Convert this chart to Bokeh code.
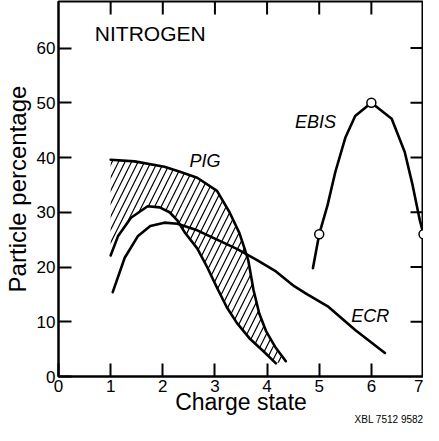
import math
from bokeh.plotting import figure
from bokeh.models import FixedTicker, Label, Range1d, Title
from bokeh.embed import file_html
from bokeh.resources import INLINE

# ---- data ----
charge_ticks = [0, 1, 2, 3, 4, 5, 6, 7]
pct_ticks = [0, 10, 20, 30, 40, 50, 60]
top_ticks = [1, 2, 3, 4, 5, 6]
right_ticks = [10, 20, 30, 40, 50, 60]
X_MIN, X_MAX = 0, 7
Y_MIN, Y_MAX = 0, 68.5

# PIG band: upper and lower envelopes
pig_upper_x = [1.0, 1.46, 2.03, 2.33, 2.66, 3.04, 3.28, 3.47, 3.57, 3.64, 3.74, 3.85, 3.98, 4.17, 4.36]
pig_upper_y = [39.6, 39.3, 38.3, 37.4, 36.3, 33.9, 30.0, 26.2, 23.3, 21.2, 15.8, 11.5, 8.3, 5.2, 2.8]
pig_lower_x = [1.0, 1.14, 1.39, 1.71, 1.94, 2.13, 2.28, 2.43, 2.66, 2.85, 3.04, 3.23, 3.42, 3.66, 3.93, 4.17]
pig_lower_y = [22.1, 25.6, 29.0, 31.1, 30.9, 30.0, 28.5, 26.2, 23.4, 20.0, 16.2, 12.6, 9.8, 7.0, 4.6, 2.4]

# ECR
ecr_x = [1.04, 1.27, 1.52, 1.76, 2.03, 2.28, 2.66, 3.04, 3.42, 3.80, 4.17, 4.52, 4.74, 5.18, 5.69, 6.26]
ecr_y = [15.4, 21.7, 25.6, 27.5, 28.1, 27.9, 26.7, 25.0, 23.3, 21.3, 19.2, 16.5, 15.2, 12.7, 8.5, 4.3]

# EBIS curve and measured points
ebis_x = [4.88, 5.0, 5.16, 5.31, 5.5, 5.69, 6.0, 6.39, 6.64, 6.79, 6.93, 7.0]
ebis_y = [19.8, 26.0, 31.3, 37.4, 43.6, 47.6, 50.0, 47.1, 41.0, 35.0, 28.5, 26.0]
ebis_pts_x = [5, 6, 7]
ebis_pts_y = [26, 50, 26]

FONT = "Liberation Sans"

p = figure(width=423, height=425, x_range=Range1d(X_MIN, X_MAX), y_range=Range1d(Y_MIN, Y_MAX),
           output_backend="svg", toolbar_location=None,
           min_border_left=52, min_border_right=0, min_border_top=1, min_border_bottom=49)
p.xgrid.visible = False
p.ygrid.visible = False
p.outline_line_color = "black"
p.outline_line_width = 2
p.background_fill_color = "white"
p.border_fill_color = "white"

def style_axis(ax, ticks):
    ax.ticker = FixedTicker(ticks=ticks)
    ax.axis_line_width = 2
    ax.axis_line_color = "black"
    ax.major_tick_in = 13
    ax.major_tick_out = 0
    ax.major_tick_line_width = 2
    ax.major_tick_line_color = "black"
    ax.minor_tick_line_color = None
    ax.major_label_text_font = FONT
    ax.major_label_text_color = "black"
    ax.axis_label_text_font = FONT
    ax.axis_label_text_color = "black"
    ax.axis_label_text_font_style = "normal"

xa = p.xaxis[0]
style_axis(xa, charge_ticks)
xa.major_label_text_font_size = "17px"
xa.major_label_standoff = 3
xa.axis_label = "Charge state"
xa.axis_label_text_font_size = "23px"
xa.axis_label_standoff = -6

ya = p.yaxis[0]
style_axis(ya, pct_ticks)
ya.major_label_text_font_size = "17px"
ya.major_label_standoff = 3
ya.axis_label = "Particle percentage"
ya.axis_label_text_font_size = "24px"
ya.axis_label_standoff = 3

# inward ticks on the top and right edges (half of each dash is clipped by the frame)
p.scatter(top_ticks, [Y_MAX] * len(top_ticks), marker="dash", angle=math.pi / 2,
          size=26, line_color="black", line_width=2)
p.scatter([X_MAX] * len(right_ticks), right_ticks, marker="dash",
          size=26, line_color="black", line_width=2)

# hatched PIG band
band_x = pig_upper_x + pig_lower_x[::-1]
band_y = pig_upper_y + pig_lower_y[::-1]
p.patch(band_x, band_y, fill_alpha=0, line_color=None,
        hatch_pattern="/", hatch_color="black", hatch_scale=13, hatch_weight=1.2)

LW = 2.6
for xs, ys in [(pig_upper_x, pig_upper_y), (pig_lower_x, pig_lower_y),
               (ecr_x, ecr_y), (ebis_x, ebis_y)]:
    p.line(xs, ys, line_color="black", line_width=LW, line_cap="round", line_join="round")
p.scatter(ebis_pts_x, ebis_pts_y, size=9, fill_color="white", line_color="black", line_width=1.5)

def add_label(x, y, text, size, style="normal"):
    p.add_layout(Label(x=x, y=y, text=text, text_font=FONT, text_font_size=size,
                       text_font_style=style, text_align="center", text_baseline="middle",
                       text_color="black"))

add_label(1.76, 62.7, "NITROGEN", "21px")
add_label(2.81, 39.3, "PIG", "18px", "italic")
add_label(4.93, 46.5, "EBIS", "18px", "italic")
add_label(5.98, 11.0, "ECR", "18px", "italic")

p.add_layout(Title(text="XBL 7512 9582", align="right", text_font=FONT, text_font_size="10px",
                   text_font_style="normal", text_color="black", standoff=-14), "below")

open("out.html", "w").write(file_html(p, INLINE))
